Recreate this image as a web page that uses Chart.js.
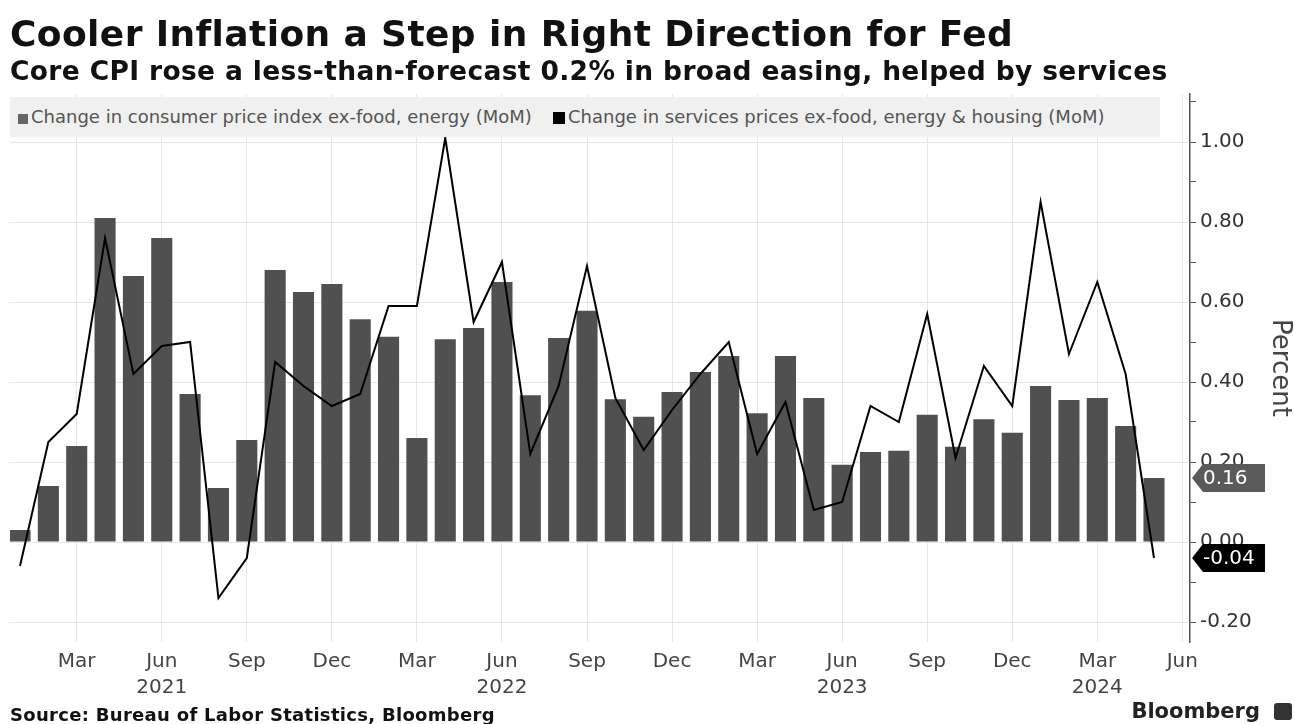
<!DOCTYPE html>
<html>
<head>
<meta charset="utf-8">
<title>Cooler Inflation a Step in Right Direction for Fed</title>
<script src="https://cdn.jsdelivr.net/npm/chart.js@4.4.1/dist/chart.umd.min.js"></script>
<style>
  html, body { margin: 0; padding: 0; background: #fff; }
  #wrap { position: relative; width: 1295px; height: 724px; overflow: hidden; font-family: "DejaVu Sans", sans-serif; }
  #chart { position: absolute; left: 0; top: 0; }
  .hd { position: absolute; left: 10px; margin: 0; font-weight: bold; color: #111; white-space: nowrap; line-height: 1; }
  #title { top: 16px; font-size: 36px; letter-spacing: 0.4px; }
  #subtitle { top: 58px; font-size: 26.5px; letter-spacing: 0.35px; }
  #legend { position: absolute; left: 10px; top: 97px; width: 1150px; height: 40px; background: #f0f0f0; }
  .item { position: absolute; top: 0; height: 40px; line-height: 40px; font-size: 18px; color: #555; white-space: nowrap; }
  .sw { display: inline-block; width: 10px; height: 10px; margin-right: 3px; vertical-align: -1px; }
  #source { position: absolute; left: 10px; top: 706px; font-size: 18px; font-weight: bold; color: #111; line-height: 1; white-space: nowrap; letter-spacing: 0.3px; }
  #brand { position: absolute; right: 35px; top: 701px; font-size: 21px; font-weight: bold; color: #222; line-height: 1; white-space: nowrap; }
  #brandIcon { position: absolute; left: 1274px; top: 703px; width: 18px; height: 17px; background: #333; border-radius: 3px; }
</style>
</head>
<body>
<div id="wrap">
  <canvas id="chart" width="1295" height="724"></canvas>
  <h1 class="hd" id="title">Cooler Inflation a Step in Right Direction for Fed</h1>
  <h2 class="hd" id="subtitle">Core CPI rose a less-than-forecast 0.2% in broad easing, helped by services</h2>
  <div id="legend"></div>
  <div id="source">Source: Bureau of Labor Statistics, Bloomberg</div>
  <div id="brand">Bloomberg</div>
  <div id="brandIcon"></div>
</div>
<script>
// Monthly observations, Jan 2021 – May 2024
const months = [
  'Jan 2021','Feb 2021','Mar 2021','Apr 2021','May 2021','Jun 2021','Jul 2021','Aug 2021','Sep 2021','Oct 2021','Nov 2021','Dec 2021',
  'Jan 2022','Feb 2022','Mar 2022','Apr 2022','May 2022','Jun 2022','Jul 2022','Aug 2022','Sep 2022','Oct 2022','Nov 2022','Dec 2022',
  'Jan 2023','Feb 2023','Mar 2023','Apr 2023','May 2023','Jun 2023','Jul 2023','Aug 2023','Sep 2023','Oct 2023','Nov 2023','Dec 2023',
  'Jan 2024','Feb 2024','Mar 2024','Apr 2024','May 2024'
];

// Core CPI, month-over-month % change
const coreCpi = [
  0.03, 0.14, 0.24, 0.81, 0.665, 0.76, 0.37, 0.135, 0.255, 0.68, 0.625, 0.645,
  0.557, 0.513, 0.26, 0.507, 0.535, 0.65, 0.367, 0.51, 0.578, 0.357, 0.313, 0.375,
  0.425, 0.465, 0.322, 0.465, 0.36, 0.193, 0.225, 0.228, 0.318, 0.238, 0.307, 0.273,
  0.39, 0.355, 0.36, 0.29, 0.16
];

// Services ex-food, energy & housing, month-over-month % change
const servicesExHousing = [
  -0.06, 0.25, 0.32, 0.76, 0.42, 0.49, 0.50, -0.14, -0.04, 0.45, 0.39, 0.34,
  0.37, 0.59, 0.59, 1.01, 0.55, 0.70, 0.22, 0.39, 0.69, 0.36, 0.23, 0.33,
  0.42, 0.50, 0.22, 0.35, 0.08, 0.10, 0.34, 0.30, 0.57, 0.21, 0.44, 0.34,
  0.85, 0.47, 0.65, 0.42, -0.04
];

// Quarterly x-axis ticks, as month offsets from Jan 2021
const tickPositions = [2, 5, 8, 11, 14, 17, 20, 23, 26, 29, 32, 35, 38, 41];
const tickLabels = [
  ['Mar'], ['Jun', '2021'], ['Sep'], ['Dec'],
  ['Mar'], ['Jun', '2022'], ['Sep'], ['Dec'],
  ['Mar'], ['Jun', '2023'], ['Sep'], ['Dec'],
  ['Mar', '2024'], ['Jun']
];

const seriesNames = [
  'Change in consumer price index ex-food, energy (MoM)',
  'Change in services prices ex-food, energy & housing (MoM)'
];

const toPoints = arr => arr.map((v, i) => ({ x: i, y: v }));
const tickFont = { family: 'DejaVu Sans', size: 20, lineHeight: 1.3 };

// Value tags for the latest reading of each series, pinned to the right axis
const lastValueTags = {
  id: 'lastValueTags',
  afterDraw(chart) {
    const { ctx, chartArea, scales: { y } } = chart;
    chart.data.datasets.forEach(ds => {
      const last = ds.data[ds.data.length - 1].y;
      const py = y.getPixelForValue(last);
      const x0 = chartArea.right + 2, h = 28, w = 73, tip = 11;
      ctx.save();
      ctx.fillStyle = ds.tagColor;
      ctx.beginPath();
      ctx.moveTo(x0, py);
      ctx.lineTo(x0 + tip, py - h / 2);
      ctx.lineTo(x0 + w, py - h / 2);
      ctx.lineTo(x0 + w, py + h / 2);
      ctx.lineTo(x0 + tip, py + h / 2);
      ctx.closePath();
      ctx.fill();
      ctx.fillStyle = '#fff';
      ctx.font = '20px "DejaVu Sans"';
      ctx.textBaseline = 'middle';
      ctx.textAlign = 'left';
      ctx.fillText(last.toFixed(2), x0 + tip, py + 1);
      ctx.restore();
    });
  }
};

const chart = new Chart(document.getElementById('chart'), {
  data: {
    labels: months,
    datasets: [
      {
        type: 'bar',
        label: seriesNames[0],
        data: toPoints(coreCpi),
        backgroundColor: '#505050',
        tagColor: '#5a5a5a',
        swatch: '#666',
        categoryPercentage: 0.8,
        barPercentage: 0.93,
        order: 1
      },
      {
        type: 'line',
        label: seriesNames[1],
        data: toPoints(servicesExHousing),
        borderColor: '#000',
        backgroundColor: '#000',
        tagColor: '#000',
        swatch: '#000',
        borderWidth: 2,
        pointRadius: 0,
        tension: 0,
        order: 0
      }
    ]
  },
  options: {
    responsive: false,
    animation: false,
    layout: { padding: { top: 94, left: 10, right: 0, bottom: 22 } },
    plugins: { legend: { display: false }, tooltip: { enabled: false } },
    scales: {
      x: {
        type: 'linear',
        offset: false,
        min: -0.353,
        max: 41.27,
        afterBuildTicks: s => { s.ticks = tickPositions.map(v => ({ value: v })); },
        afterFit: s => { s.height = 60; },
        grid: { color: '#e6e6e6', lineWidth: 1, drawTicks: false, offset: false },
        border: { display: false },
        ticks: {
          font: tickFont, color: '#444', padding: 7, maxRotation: 0, autoSkip: false,
          callback: (v, i) => tickLabels[i]
        }
      },
      y: {
        position: 'right',
        min: -0.25,
        max: 1.12,
        afterFit: s => { s.width = 105; },
        grid: {
          color: c => (Math.round(c.tick.value * 10) % 2 === 0 ? '#e6e6e6' : 'rgba(0,0,0,0)'),
          tickColor: '#555',
          tickLength: 6,
          lineWidth: 1
        },
        border: { display: true, color: '#555', width: 1.5 },
        ticks: {
          stepSize: 0.1,
          includeBounds: false,
          font: tickFont, color: '#333', padding: 4,
          callback: v => (Math.round(v * 10) % 2 === 0 ? v.toFixed(2) : '')
        },
        title: { display: true, text: 'Percent', font: { family: 'DejaVu Sans', size: 26 }, color: '#444', padding: { top: 0, bottom: 0 } }
      }
    }
  },
  plugins: [lastValueTags]
});

// Legend strip built from the datasets
const legendEl = document.getElementById('legend');
const itemLeft = [8, 543];
chart.data.datasets.forEach((ds, i) => {
  const item = document.createElement('div');
  item.className = 'item';
  item.style.left = itemLeft[i] + 'px';
  const sw = document.createElement('span');
  sw.className = 'sw';
  sw.style.background = ds.swatch;
  if (i === 1) { sw.style.width = '12px'; sw.style.height = '12px'; }
  item.appendChild(sw);
  item.appendChild(document.createTextNode(ds.label));
  legendEl.appendChild(item);
});
</script>
</body>
</html>
